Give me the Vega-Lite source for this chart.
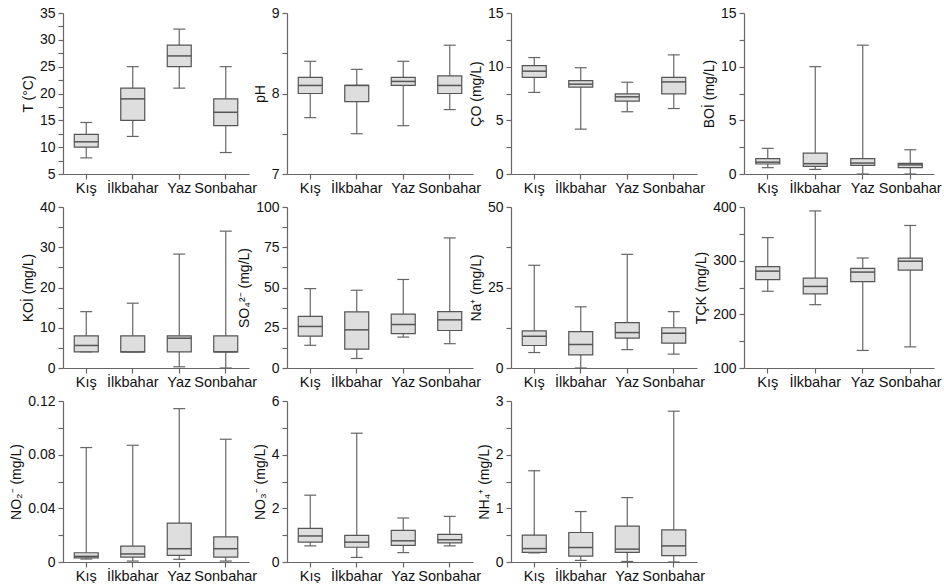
{
  "$schema": "https://vega.github.io/schema/vega-lite/v6.json",
  "padding": {"left": 9, "top": 6, "right": 0, "bottom": 0},
  "datasets": {
    "d": [
      {"p": "T", "s": "Kış", "min": 8, "q1": 10, "med": 11, "q3": 12.4, "max": 14.6},
      {"p": "T", "s": "İlkbahar", "min": 12, "q1": 15, "med": 19, "q3": 21, "max": 25},
      {"p": "T", "s": "Yaz", "min": 21, "q1": 25, "med": 27, "q3": 29, "max": 32},
      {"p": "T", "s": "Sonbahar", "min": 9, "q1": 14, "med": 16.5, "q3": 19, "max": 25},
      {"p": "pH", "s": "Kış", "min": 7.7, "q1": 8.0, "med": 8.1, "q3": 8.2, "max": 8.4},
      {"p": "pH", "s": "İlkbahar", "min": 7.5, "q1": 7.9, "med": 8.1, "q3": 8.1, "max": 8.3},
      {"p": "pH", "s": "Yaz", "min": 7.6, "q1": 8.1, "med": 8.15, "q3": 8.2, "max": 8.4},
      {"p": "pH", "s": "Sonbahar", "min": 7.8, "q1": 8.0, "med": 8.1, "q3": 8.22, "max": 8.6},
      {"p": "CO", "s": "Kış", "min": 7.6, "q1": 9.0, "med": 9.58, "q3": 10.1, "max": 10.85},
      {"p": "CO", "s": "İlkbahar", "min": 4.18, "q1": 8.1, "med": 8.37, "q3": 8.7, "max": 9.9},
      {"p": "CO", "s": "Yaz", "min": 5.8, "q1": 6.79, "med": 7.19, "q3": 7.47, "max": 8.55},
      {"p": "CO", "s": "Sonbahar", "min": 6.1, "q1": 7.47, "med": 8.58, "q3": 9.0, "max": 11.1},
      {"p": "BOI", "s": "Kış", "min": 0.59, "q1": 0.93, "med": 1.1, "q3": 1.43, "max": 2.39},
      {"p": "BOI", "s": "İlkbahar", "min": 0.43, "q1": 0.71, "med": 0.96, "q3": 1.95, "max": 10.0},
      {"p": "BOI", "s": "Yaz", "min": 0, "q1": 0.8, "med": 1.02, "q3": 1.43, "max": 12.0},
      {"p": "BOI", "s": "Sonbahar", "min": 0, "q1": 0.59, "med": 0.85, "q3": 0.99, "max": 2.26},
      {"p": "KOI", "s": "Kış", "min": 4, "q1": 4, "med": 5.6, "q3": 8, "max": 14},
      {"p": "KOI", "s": "İlkbahar", "min": 4, "q1": 4, "med": 4, "q3": 8, "max": 16.1},
      {"p": "KOI", "s": "Yaz", "min": 0.3, "q1": 4, "med": 7.4, "q3": 8, "max": 28.3},
      {"p": "KOI", "s": "Sonbahar", "min": 0, "q1": 4, "med": 4, "q3": 8, "max": 34},
      {"p": "SO4", "s": "Kış", "min": 14.1, "q1": 19.8, "med": 25.8, "q3": 32.1, "max": 49.3},
      {"p": "SO4", "s": "İlkbahar", "min": 5.9, "q1": 11.7, "med": 23.7, "q3": 34.8, "max": 48.3},
      {"p": "SO4", "s": "Yaz", "min": 19.2, "q1": 21.3, "med": 27, "q3": 33.5, "max": 55},
      {"p": "SO4", "s": "Sonbahar", "min": 15.1, "q1": 23.3, "med": 29.9, "q3": 35, "max": 80.8},
      {"p": "Na", "s": "Kış", "min": 4.8, "q1": 6.98, "med": 9.86, "q3": 11.5, "max": 31.9},
      {"p": "Na", "s": "İlkbahar", "min": 0, "q1": 4.1, "med": 7.3, "q3": 11.3, "max": 19},
      {"p": "Na", "s": "Yaz", "min": 5.7, "q1": 9.3, "med": 11, "q3": 14.1, "max": 35.3},
      {"p": "Na", "s": "Sonbahar", "min": 4.3, "q1": 7.7, "med": 10.8, "q3": 12.5, "max": 17.5},
      {"p": "TCK", "s": "Kış", "min": 243, "q1": 264.5, "med": 280.5, "q3": 289, "max": 343},
      {"p": "TCK", "s": "İlkbahar", "min": 218, "q1": 238, "med": 252, "q3": 267.6, "max": 392.7},
      {"p": "TCK", "s": "Yaz", "min": 132.7, "q1": 260.8, "med": 278.7, "q3": 285.5, "max": 305},
      {"p": "TCK", "s": "Sonbahar", "min": 139.4, "q1": 282.4, "med": 299, "q3": 304.6, "max": 365.6},
      {"p": "NO2", "s": "Kış", "min": 0.0022, "q1": 0.003, "med": 0.0042, "q3": 0.0069, "max": 0.0853},
      {"p": "NO2", "s": "İlkbahar", "min": 0.0007, "q1": 0.0037, "med": 0.006, "q3": 0.0119, "max": 0.087},
      {"p": "NO2", "s": "Yaz", "min": 0.002, "q1": 0.005, "med": 0.0099, "q3": 0.029, "max": 0.1143},
      {"p": "NO2", "s": "Sonbahar", "min": 0.0007, "q1": 0.0037, "med": 0.0099, "q3": 0.0188, "max": 0.0915},
      {"p": "NO3", "s": "Kış", "min": 0.6, "q1": 0.74, "med": 0.97, "q3": 1.25, "max": 2.49},
      {"p": "NO3", "s": "İlkbahar", "min": 0.17, "q1": 0.55, "med": 0.74, "q3": 0.99, "max": 4.8},
      {"p": "NO3", "s": "Yaz", "min": 0.35, "q1": 0.62, "med": 0.79, "q3": 1.18, "max": 1.64},
      {"p": "NO3", "s": "Sonbahar", "min": 0.6, "q1": 0.71, "med": 0.83, "q3": 1.03, "max": 1.7},
      {"p": "NH4", "s": "Kış", "min": 0.17, "q1": 0.18, "med": 0.25, "q3": 0.5, "max": 1.7},
      {"p": "NH4", "s": "İlkbahar", "min": 0.03, "q1": 0.11, "med": 0.27, "q3": 0.55, "max": 0.94},
      {"p": "NH4", "s": "Yaz", "min": 0.01, "q1": 0.18, "med": 0.24, "q3": 0.67, "max": 1.2},
      {"p": "NH4", "s": "Sonbahar", "min": 0, "q1": 0.12, "med": 0.3, "q3": 0.6, "max": 2.81}
    ]
  },
  "data": {"name": "d"},
  "bounds": "flush",
  "columns": 4,
  "spacing": {"row": 33, "column": 38},
  "concat": [
    {
      "width": 186, "height": 161,
      "transform": [{"filter": "datum.p == 'T'"}],
      "encoding": {"x": {"field": "s", "type": "nominal", "sort": ["Kış", "İlkbahar", "Yaz", "Sonbahar"], "scale": {"paddingInner": 0, "paddingOuter": 0}, "axis": {"title": null}}},
      "layer": [
        {"mark": {"type": "rule", "color": "#666", "strokeWidth": 1.2}, "encoding": {"y": {"field": "min", "type": "quantitative", "scale": {"domain": [5, 35], "nice": false, "zero": false}, "axis": {"title": "T (°C)", "values": [5, 7.5, 10, 12.5, 15, 17.5, 20, 22.5, 25, 27.5, 30, 32.5, 35], "labelExpr": "datum.value % 5 == 0 ? '' + datum.value : ''"}}, "y2": {"field": "max"}}},
        {"mark": {"type": "bar", "size": 24, "fill": "#dedede", "stroke": "#555", "strokeWidth": 1.2}, "encoding": {"y": {"field": "q1", "type": "quantitative", "scale": {"domain": [5, 35], "nice": false, "zero": false}, "axis": {"title": "T (°C)", "values": [5, 7.5, 10, 12.5, 15, 17.5, 20, 22.5, 25, 27.5, 30, 32.5, 35], "labelExpr": "datum.value % 5 == 0 ? '' + datum.value : ''"}}, "y2": {"field": "q3"}}},
        {"mark": {"type": "tick", "size": 24, "thickness": 1.5, "color": "#555", "opacity": 1}, "encoding": {"y": {"field": "med", "type": "quantitative", "scale": {"domain": [5, 35], "nice": false, "zero": false}, "axis": {"title": "T (°C)", "values": [5, 7.5, 10, 12.5, 15, 17.5, 20, 22.5, 25, 27.5, 30, 32.5, 35], "labelExpr": "datum.value % 5 == 0 ? '' + datum.value : ''"}}}},
        {"transform": [{"fold": ["min", "max"], "as": ["k", "v"]}], "mark": {"type": "tick", "size": 12, "thickness": 1.2, "color": "#666", "opacity": 1}, "encoding": {"y": {"field": "v", "type": "quantitative", "scale": {"domain": [5, 35], "nice": false, "zero": false}, "axis": {"title": "T (°C)", "values": [5, 7.5, 10, 12.5, 15, 17.5, 20, 22.5, 25, 27.5, 30, 32.5, 35], "labelExpr": "datum.value % 5 == 0 ? '' + datum.value : ''"}}}}
      ]
    },
    {
      "width": 186, "height": 161,
      "transform": [{"filter": "datum.p == 'pH'"}],
      "encoding": {"x": {"field": "s", "type": "nominal", "sort": ["Kış", "İlkbahar", "Yaz", "Sonbahar"], "scale": {"paddingInner": 0, "paddingOuter": 0}, "axis": {"title": null}}},
      "layer": [
        {"mark": {"type": "rule", "color": "#666", "strokeWidth": 1.2}, "encoding": {"y": {"field": "min", "type": "quantitative", "scale": {"domain": [7, 9], "nice": false, "zero": false}, "axis": {"title": "pH", "values": [7, 7.5, 8, 8.5, 9], "labelExpr": "datum.value % 1 == 0 ? '' + datum.value : ''"}}, "y2": {"field": "max"}}},
        {"mark": {"type": "bar", "size": 24, "fill": "#dedede", "stroke": "#555", "strokeWidth": 1.2}, "encoding": {"y": {"field": "q1", "type": "quantitative", "scale": {"domain": [7, 9], "nice": false, "zero": false}, "axis": {"title": "pH", "values": [7, 7.5, 8, 8.5, 9], "labelExpr": "datum.value % 1 == 0 ? '' + datum.value : ''"}}, "y2": {"field": "q3"}}},
        {"mark": {"type": "tick", "size": 24, "thickness": 1.5, "color": "#555", "opacity": 1}, "encoding": {"y": {"field": "med", "type": "quantitative", "scale": {"domain": [7, 9], "nice": false, "zero": false}, "axis": {"title": "pH", "values": [7, 7.5, 8, 8.5, 9], "labelExpr": "datum.value % 1 == 0 ? '' + datum.value : ''"}}}},
        {"transform": [{"fold": ["min", "max"], "as": ["k", "v"]}], "mark": {"type": "tick", "size": 12, "thickness": 1.2, "color": "#666", "opacity": 1}, "encoding": {"y": {"field": "v", "type": "quantitative", "scale": {"domain": [7, 9], "nice": false, "zero": false}, "axis": {"title": "pH", "values": [7, 7.5, 8, 8.5, 9], "labelExpr": "datum.value % 1 == 0 ? '' + datum.value : ''"}}}}
      ]
    },
    {
      "width": 195, "height": 161,
      "transform": [{"filter": "datum.p == 'CO'"}],
      "encoding": {"x": {"field": "s", "type": "nominal", "sort": ["Kış", "İlkbahar", "Yaz", "Sonbahar"], "scale": {"paddingInner": 0, "paddingOuter": 0, "range": [0, 186]}, "axis": {"title": null}}},
      "layer": [
        {"mark": {"type": "rule", "color": "#666", "strokeWidth": 1.2}, "encoding": {"y": {"field": "min", "type": "quantitative", "scale": {"domain": [0, 15], "nice": false, "zero": false}, "axis": {"title": "ÇO (mg/L)", "values": [0, 2.5, 5, 7.5, 10, 12.5, 15], "labelExpr": "datum.value % 5 == 0 ? '' + datum.value : ''"}}, "y2": {"field": "max"}}},
        {"mark": {"type": "bar", "size": 24, "fill": "#dedede", "stroke": "#555", "strokeWidth": 1.2}, "encoding": {"y": {"field": "q1", "type": "quantitative", "scale": {"domain": [0, 15], "nice": false, "zero": false}, "axis": {"title": "ÇO (mg/L)", "values": [0, 2.5, 5, 7.5, 10, 12.5, 15], "labelExpr": "datum.value % 5 == 0 ? '' + datum.value : ''"}}, "y2": {"field": "q3"}}},
        {"mark": {"type": "tick", "size": 24, "thickness": 1.5, "color": "#555", "opacity": 1}, "encoding": {"y": {"field": "med", "type": "quantitative", "scale": {"domain": [0, 15], "nice": false, "zero": false}, "axis": {"title": "ÇO (mg/L)", "values": [0, 2.5, 5, 7.5, 10, 12.5, 15], "labelExpr": "datum.value % 5 == 0 ? '' + datum.value : ''"}}}},
        {"transform": [{"fold": ["min", "max"], "as": ["k", "v"]}], "mark": {"type": "tick", "size": 12, "thickness": 1.2, "color": "#666", "opacity": 1}, "encoding": {"y": {"field": "v", "type": "quantitative", "scale": {"domain": [0, 15], "nice": false, "zero": false}, "axis": {"title": "ÇO (mg/L)", "values": [0, 2.5, 5, 7.5, 10, 12.5, 15], "labelExpr": "datum.value % 5 == 0 ? '' + datum.value : ''"}}}}
      ]
    },
    {
      "width": 190, "height": 161,
      "transform": [{"filter": "datum.p == 'BOI'"}],
      "encoding": {"x": {"field": "s", "type": "nominal", "sort": ["Kış", "İlkbahar", "Yaz", "Sonbahar"], "scale": {"paddingInner": 0, "paddingOuter": 0}, "axis": {"title": null}}},
      "layer": [
        {"mark": {"type": "rule", "color": "#666", "strokeWidth": 1.2}, "encoding": {"y": {"field": "min", "type": "quantitative", "scale": {"domain": [0, 15], "nice": false, "zero": false}, "axis": {"title": "BOİ (mg/L)", "values": [0, 2.5, 5, 7.5, 10, 12.5, 15], "labelExpr": "datum.value % 5 == 0 ? '' + datum.value : ''"}}, "y2": {"field": "max"}}},
        {"mark": {"type": "bar", "size": 24, "fill": "#dedede", "stroke": "#555", "strokeWidth": 1.2}, "encoding": {"y": {"field": "q1", "type": "quantitative", "scale": {"domain": [0, 15], "nice": false, "zero": false}, "axis": {"title": "BOİ (mg/L)", "values": [0, 2.5, 5, 7.5, 10, 12.5, 15], "labelExpr": "datum.value % 5 == 0 ? '' + datum.value : ''"}}, "y2": {"field": "q3"}}},
        {"mark": {"type": "tick", "size": 24, "thickness": 1.5, "color": "#555", "opacity": 1}, "encoding": {"y": {"field": "med", "type": "quantitative", "scale": {"domain": [0, 15], "nice": false, "zero": false}, "axis": {"title": "BOİ (mg/L)", "values": [0, 2.5, 5, 7.5, 10, 12.5, 15], "labelExpr": "datum.value % 5 == 0 ? '' + datum.value : ''"}}}},
        {"transform": [{"fold": ["min", "max"], "as": ["k", "v"]}], "mark": {"type": "tick", "size": 12, "thickness": 1.2, "color": "#666", "opacity": 1}, "encoding": {"y": {"field": "v", "type": "quantitative", "scale": {"domain": [0, 15], "nice": false, "zero": false}, "axis": {"title": "BOİ (mg/L)", "values": [0, 2.5, 5, 7.5, 10, 12.5, 15], "labelExpr": "datum.value % 5 == 0 ? '' + datum.value : ''"}}}}
      ]
    },
    {
      "width": 186, "height": 161,
      "transform": [{"filter": "datum.p == 'KOI'"}],
      "encoding": {"x": {"field": "s", "type": "nominal", "sort": ["Kış", "İlkbahar", "Yaz", "Sonbahar"], "scale": {"paddingInner": 0, "paddingOuter": 0}, "axis": {"title": null}}},
      "layer": [
        {"mark": {"type": "rule", "color": "#666", "strokeWidth": 1.2}, "encoding": {"y": {"field": "min", "type": "quantitative", "scale": {"domain": [0, 40], "nice": false, "zero": false}, "axis": {"title": "KOİ  (mg/L)", "values": [0, 5, 10, 15, 20, 25, 30, 35, 40], "labelExpr": "datum.value % 10 == 0 ? '' + datum.value : ''"}}, "y2": {"field": "max"}}},
        {"mark": {"type": "bar", "size": 24, "fill": "#dedede", "stroke": "#555", "strokeWidth": 1.2}, "encoding": {"y": {"field": "q1", "type": "quantitative", "scale": {"domain": [0, 40], "nice": false, "zero": false}, "axis": {"title": "KOİ  (mg/L)", "values": [0, 5, 10, 15, 20, 25, 30, 35, 40], "labelExpr": "datum.value % 10 == 0 ? '' + datum.value : ''"}}, "y2": {"field": "q3"}}},
        {"mark": {"type": "tick", "size": 24, "thickness": 1.5, "color": "#555", "opacity": 1}, "encoding": {"y": {"field": "med", "type": "quantitative", "scale": {"domain": [0, 40], "nice": false, "zero": false}, "axis": {"title": "KOİ  (mg/L)", "values": [0, 5, 10, 15, 20, 25, 30, 35, 40], "labelExpr": "datum.value % 10 == 0 ? '' + datum.value : ''"}}}},
        {"transform": [{"fold": ["min", "max"], "as": ["k", "v"]}], "mark": {"type": "tick", "size": 12, "thickness": 1.2, "color": "#666", "opacity": 1}, "encoding": {"y": {"field": "v", "type": "quantitative", "scale": {"domain": [0, 40], "nice": false, "zero": false}, "axis": {"title": "KOİ  (mg/L)", "values": [0, 5, 10, 15, 20, 25, 30, 35, 40], "labelExpr": "datum.value % 10 == 0 ? '' + datum.value : ''"}}}}
      ]
    },
    {
      "width": 186, "height": 161,
      "transform": [{"filter": "datum.p == 'SO4'"}],
      "encoding": {"x": {"field": "s", "type": "nominal", "sort": ["Kış", "İlkbahar", "Yaz", "Sonbahar"], "scale": {"paddingInner": 0, "paddingOuter": 0}, "axis": {"title": null}}},
      "layer": [
        {"mark": {"type": "rule", "color": "#666", "strokeWidth": 1.2}, "encoding": {"y": {"field": "min", "type": "quantitative", "scale": {"domain": [0, 100], "nice": false, "zero": false}, "axis": {"title": "SO₄²⁻ (mg/L)", "values": [0, 12.5, 25, 37.5, 50, 62.5, 75, 87.5, 100], "labelExpr": "datum.value % 25 == 0 ? '' + datum.value : ''"}}, "y2": {"field": "max"}}},
        {"mark": {"type": "bar", "size": 24, "fill": "#dedede", "stroke": "#555", "strokeWidth": 1.2}, "encoding": {"y": {"field": "q1", "type": "quantitative", "scale": {"domain": [0, 100], "nice": false, "zero": false}, "axis": {"title": "SO₄²⁻ (mg/L)", "values": [0, 12.5, 25, 37.5, 50, 62.5, 75, 87.5, 100], "labelExpr": "datum.value % 25 == 0 ? '' + datum.value : ''"}}, "y2": {"field": "q3"}}},
        {"mark": {"type": "tick", "size": 24, "thickness": 1.5, "color": "#555", "opacity": 1}, "encoding": {"y": {"field": "med", "type": "quantitative", "scale": {"domain": [0, 100], "nice": false, "zero": false}, "axis": {"title": "SO₄²⁻ (mg/L)", "values": [0, 12.5, 25, 37.5, 50, 62.5, 75, 87.5, 100], "labelExpr": "datum.value % 25 == 0 ? '' + datum.value : ''"}}}},
        {"transform": [{"fold": ["min", "max"], "as": ["k", "v"]}], "mark": {"type": "tick", "size": 12, "thickness": 1.2, "color": "#666", "opacity": 1}, "encoding": {"y": {"field": "v", "type": "quantitative", "scale": {"domain": [0, 100], "nice": false, "zero": false}, "axis": {"title": "SO₄²⁻ (mg/L)", "values": [0, 12.5, 25, 37.5, 50, 62.5, 75, 87.5, 100], "labelExpr": "datum.value % 25 == 0 ? '' + datum.value : ''"}}}}
      ]
    },
    {
      "width": 195, "height": 161,
      "transform": [{"filter": "datum.p == 'Na'"}],
      "encoding": {"x": {"field": "s", "type": "nominal", "sort": ["Kış", "İlkbahar", "Yaz", "Sonbahar"], "scale": {"paddingInner": 0, "paddingOuter": 0, "range": [0, 186]}, "axis": {"title": null}}},
      "layer": [
        {"mark": {"type": "rule", "color": "#666", "strokeWidth": 1.2}, "encoding": {"y": {"field": "min", "type": "quantitative", "scale": {"domain": [0, 50], "nice": false, "zero": false}, "axis": {"title": "Na⁺ (mg/L)", "values": [0, 12.5, 25, 37.5, 50], "labelExpr": "datum.value % 25 == 0 ? '' + datum.value : ''"}}, "y2": {"field": "max"}}},
        {"mark": {"type": "bar", "size": 24, "fill": "#dedede", "stroke": "#555", "strokeWidth": 1.2}, "encoding": {"y": {"field": "q1", "type": "quantitative", "scale": {"domain": [0, 50], "nice": false, "zero": false}, "axis": {"title": "Na⁺ (mg/L)", "values": [0, 12.5, 25, 37.5, 50], "labelExpr": "datum.value % 25 == 0 ? '' + datum.value : ''"}}, "y2": {"field": "q3"}}},
        {"mark": {"type": "tick", "size": 24, "thickness": 1.5, "color": "#555", "opacity": 1}, "encoding": {"y": {"field": "med", "type": "quantitative", "scale": {"domain": [0, 50], "nice": false, "zero": false}, "axis": {"title": "Na⁺ (mg/L)", "values": [0, 12.5, 25, 37.5, 50], "labelExpr": "datum.value % 25 == 0 ? '' + datum.value : ''"}}}},
        {"transform": [{"fold": ["min", "max"], "as": ["k", "v"]}], "mark": {"type": "tick", "size": 12, "thickness": 1.2, "color": "#666", "opacity": 1}, "encoding": {"y": {"field": "v", "type": "quantitative", "scale": {"domain": [0, 50], "nice": false, "zero": false}, "axis": {"title": "Na⁺ (mg/L)", "values": [0, 12.5, 25, 37.5, 50], "labelExpr": "datum.value % 25 == 0 ? '' + datum.value : ''"}}}}
      ]
    },
    {
      "width": 190, "height": 161,
      "transform": [{"filter": "datum.p == 'TCK'"}],
      "encoding": {"x": {"field": "s", "type": "nominal", "sort": ["Kış", "İlkbahar", "Yaz", "Sonbahar"], "scale": {"paddingInner": 0, "paddingOuter": 0}, "axis": {"title": null}}},
      "layer": [
        {"mark": {"type": "rule", "color": "#666", "strokeWidth": 1.2}, "encoding": {"y": {"field": "min", "type": "quantitative", "scale": {"domain": [100, 400], "nice": false, "zero": false}, "axis": {"title": "TÇK (mg/L)", "values": [100, 150, 200, 250, 300, 350, 400], "labelExpr": "datum.value % 100 == 0 ? '' + datum.value : ''"}}, "y2": {"field": "max"}}},
        {"mark": {"type": "bar", "size": 24, "fill": "#dedede", "stroke": "#555", "strokeWidth": 1.2}, "encoding": {"y": {"field": "q1", "type": "quantitative", "scale": {"domain": [100, 400], "nice": false, "zero": false}, "axis": {"title": "TÇK (mg/L)", "values": [100, 150, 200, 250, 300, 350, 400], "labelExpr": "datum.value % 100 == 0 ? '' + datum.value : ''"}}, "y2": {"field": "q3"}}},
        {"mark": {"type": "tick", "size": 24, "thickness": 1.5, "color": "#555", "opacity": 1}, "encoding": {"y": {"field": "med", "type": "quantitative", "scale": {"domain": [100, 400], "nice": false, "zero": false}, "axis": {"title": "TÇK (mg/L)", "values": [100, 150, 200, 250, 300, 350, 400], "labelExpr": "datum.value % 100 == 0 ? '' + datum.value : ''"}}}},
        {"transform": [{"fold": ["min", "max"], "as": ["k", "v"]}], "mark": {"type": "tick", "size": 12, "thickness": 1.2, "color": "#666", "opacity": 1}, "encoding": {"y": {"field": "v", "type": "quantitative", "scale": {"domain": [100, 400], "nice": false, "zero": false}, "axis": {"title": "TÇK (mg/L)", "values": [100, 150, 200, 250, 300, 350, 400], "labelExpr": "datum.value % 100 == 0 ? '' + datum.value : ''"}}}}
      ]
    },
    {
      "width": 186, "height": 161,
      "transform": [{"filter": "datum.p == 'NO2'"}],
      "encoding": {"x": {"field": "s", "type": "nominal", "sort": ["Kış", "İlkbahar", "Yaz", "Sonbahar"], "scale": {"paddingInner": 0, "paddingOuter": 0}, "axis": {"title": null}}},
      "layer": [
        {"mark": {"type": "rule", "color": "#666", "strokeWidth": 1.2}, "encoding": {"y": {"field": "min", "type": "quantitative", "scale": {"domain": [0, 0.12], "nice": false, "zero": false}, "axis": {"title": "NO₂⁻ (mg/L)", "values": [0, 0.02, 0.04, 0.06, 0.08, 0.1, 0.12], "labelExpr": "datum.value == 0 ? '0' : (round(datum.value * 100) % 4 == 0 ? format(datum.value, '.2f') : '')"}}, "y2": {"field": "max"}}},
        {"mark": {"type": "bar", "size": 24, "fill": "#dedede", "stroke": "#555", "strokeWidth": 1.2}, "encoding": {"y": {"field": "q1", "type": "quantitative", "scale": {"domain": [0, 0.12], "nice": false, "zero": false}, "axis": {"title": "NO₂⁻ (mg/L)", "values": [0, 0.02, 0.04, 0.06, 0.08, 0.1, 0.12], "labelExpr": "datum.value == 0 ? '0' : (round(datum.value * 100) % 4 == 0 ? format(datum.value, '.2f') : '')"}}, "y2": {"field": "q3"}}},
        {"mark": {"type": "tick", "size": 24, "thickness": 1.5, "color": "#555", "opacity": 1}, "encoding": {"y": {"field": "med", "type": "quantitative", "scale": {"domain": [0, 0.12], "nice": false, "zero": false}, "axis": {"title": "NO₂⁻ (mg/L)", "values": [0, 0.02, 0.04, 0.06, 0.08, 0.1, 0.12], "labelExpr": "datum.value == 0 ? '0' : (round(datum.value * 100) % 4 == 0 ? format(datum.value, '.2f') : '')"}}}},
        {"transform": [{"fold": ["min", "max"], "as": ["k", "v"]}], "mark": {"type": "tick", "size": 12, "thickness": 1.2, "color": "#666", "opacity": 1}, "encoding": {"y": {"field": "v", "type": "quantitative", "scale": {"domain": [0, 0.12], "nice": false, "zero": false}, "axis": {"title": "NO₂⁻ (mg/L)", "values": [0, 0.02, 0.04, 0.06, 0.08, 0.1, 0.12], "labelExpr": "datum.value == 0 ? '0' : (round(datum.value * 100) % 4 == 0 ? format(datum.value, '.2f') : '')"}}}}
      ]
    },
    {
      "width": 186, "height": 161,
      "transform": [{"filter": "datum.p == 'NO3'"}],
      "encoding": {"x": {"field": "s", "type": "nominal", "sort": ["Kış", "İlkbahar", "Yaz", "Sonbahar"], "scale": {"paddingInner": 0, "paddingOuter": 0}, "axis": {"title": null}}},
      "layer": [
        {"mark": {"type": "rule", "color": "#666", "strokeWidth": 1.2}, "encoding": {"y": {"field": "min", "type": "quantitative", "scale": {"domain": [0, 6], "nice": false, "zero": false}, "axis": {"title": "NO₃⁻ (mg/L)", "values": [0, 1, 2, 3, 4, 5, 6], "labelExpr": "datum.value % 2 == 0 ? '' + datum.value : ''"}}, "y2": {"field": "max"}}},
        {"mark": {"type": "bar", "size": 24, "fill": "#dedede", "stroke": "#555", "strokeWidth": 1.2}, "encoding": {"y": {"field": "q1", "type": "quantitative", "scale": {"domain": [0, 6], "nice": false, "zero": false}, "axis": {"title": "NO₃⁻ (mg/L)", "values": [0, 1, 2, 3, 4, 5, 6], "labelExpr": "datum.value % 2 == 0 ? '' + datum.value : ''"}}, "y2": {"field": "q3"}}},
        {"mark": {"type": "tick", "size": 24, "thickness": 1.5, "color": "#555", "opacity": 1}, "encoding": {"y": {"field": "med", "type": "quantitative", "scale": {"domain": [0, 6], "nice": false, "zero": false}, "axis": {"title": "NO₃⁻ (mg/L)", "values": [0, 1, 2, 3, 4, 5, 6], "labelExpr": "datum.value % 2 == 0 ? '' + datum.value : ''"}}}},
        {"transform": [{"fold": ["min", "max"], "as": ["k", "v"]}], "mark": {"type": "tick", "size": 12, "thickness": 1.2, "color": "#666", "opacity": 1}, "encoding": {"y": {"field": "v", "type": "quantitative", "scale": {"domain": [0, 6], "nice": false, "zero": false}, "axis": {"title": "NO₃⁻ (mg/L)", "values": [0, 1, 2, 3, 4, 5, 6], "labelExpr": "datum.value % 2 == 0 ? '' + datum.value : ''"}}}}
      ]
    },
    {
      "width": 195, "height": 161,
      "transform": [{"filter": "datum.p == 'NH4'"}],
      "encoding": {"x": {"field": "s", "type": "nominal", "sort": ["Kış", "İlkbahar", "Yaz", "Sonbahar"], "scale": {"paddingInner": 0, "paddingOuter": 0, "range": [0, 186]}, "axis": {"title": null}}},
      "layer": [
        {"mark": {"type": "rule", "color": "#666", "strokeWidth": 1.2}, "encoding": {"y": {"field": "min", "type": "quantitative", "scale": {"domain": [0, 3], "nice": false, "zero": false}, "axis": {"title": "NH₄⁺ (mg/L)", "values": [0, 0.5, 1, 1.5, 2, 2.5, 3], "labelExpr": "datum.value % 1 == 0 ? '' + datum.value : ''"}}, "y2": {"field": "max"}}},
        {"mark": {"type": "bar", "size": 24, "fill": "#dedede", "stroke": "#555", "strokeWidth": 1.2}, "encoding": {"y": {"field": "q1", "type": "quantitative", "scale": {"domain": [0, 3], "nice": false, "zero": false}, "axis": {"title": "NH₄⁺ (mg/L)", "values": [0, 0.5, 1, 1.5, 2, 2.5, 3], "labelExpr": "datum.value % 1 == 0 ? '' + datum.value : ''"}}, "y2": {"field": "q3"}}},
        {"mark": {"type": "tick", "size": 24, "thickness": 1.5, "color": "#555", "opacity": 1}, "encoding": {"y": {"field": "med", "type": "quantitative", "scale": {"domain": [0, 3], "nice": false, "zero": false}, "axis": {"title": "NH₄⁺ (mg/L)", "values": [0, 0.5, 1, 1.5, 2, 2.5, 3], "labelExpr": "datum.value % 1 == 0 ? '' + datum.value : ''"}}}},
        {"transform": [{"fold": ["min", "max"], "as": ["k", "v"]}], "mark": {"type": "tick", "size": 12, "thickness": 1.2, "color": "#666", "opacity": 1}, "encoding": {"y": {"field": "v", "type": "quantitative", "scale": {"domain": [0, 3], "nice": false, "zero": false}, "axis": {"title": "NH₄⁺ (mg/L)", "values": [0, 0.5, 1, 1.5, 2, 2.5, 3], "labelExpr": "datum.value % 1 == 0 ? '' + datum.value : ''"}}}}
      ]
    }
  ],
  "config": {
    "view": {"stroke": null},
    "font": "Liberation Sans",
    "axis": {
      "labelFont": "Liberation Sans", "titleFont": "Liberation Sans",
      "labelFontSize": 14, "titleFontSize": 14, "titleFontWeight": "normal",
      "labelColor": "#111", "titleColor": "#111",
      "domainColor": "#666", "tickColor": "#666", "domainWidth": 1.2, "tickWidth": 1.2,
      "tickSize": 5, "grid": false, "labelPadding": 3, "titlePadding": 4
    },
    "axisX": {"labelAngle": 0, "labelOverlap": false, "labelPadding": 2, "labelFontSize": 14.5}
  }
}
